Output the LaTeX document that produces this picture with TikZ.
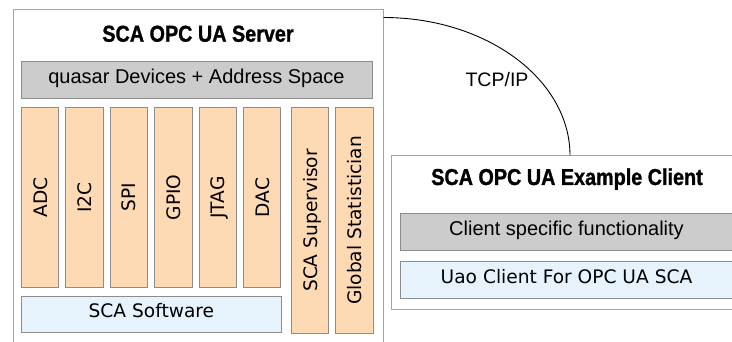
\documentclass[tikz,border=0pt]{standalone}
\usepackage{fontspec}
\setmainfont{Liberation Sans}
\newfontfamily\lucfont{DejaVu Sans}
\newfontfamily\condfont[FakeStretch=0.86,BoldFeatures={FakeBold=1.2}]{Liberation Sans}
\usetikzlibrary{positioning,calc}
\definecolor{framegray}{RGB}{165,165,165}
\definecolor{linegray}{RGB}{140,140,140}
\definecolor{chipfill}{RGB}{253,217,180}
\definecolor{barfill}{RGB}{204,204,204}
\definecolor{swfill}{RGB}{230,242,252}
\newcommand{\uptext}[1]{\rotatebox{90}{\raisebox{0pt}[\height][0pt]{#1}}}
\tikzset{
  frame/.style={rectangle, draw=framegray, fill=white, line width=1pt,
                inner sep=0pt},
  boxtitle/.style={inner sep=0pt, font=\condfont\bfseries\fontsize{23}{26}\selectfont},
  layer/.style={rectangle, draw=linegray, fill=barfill, line width=0.8pt,
                minimum height=37pt, inner sep=0pt, text height=0.72em,
                text depth=0pt, font=\fontsize{20}{24}\selectfont},
  software/.style={layer, fill=swfill, minimum height=36pt,
                   font=\lucfont\fontsize{18.6}{22}\selectfont},
  chip/.style={rectangle, draw=linegray, fill=chipfill, line width=0.8pt,
               minimum width=37.4pt, minimum height=180pt, inner sep=0pt,
               font=\lucfont\fontsize{18.6}{22}\selectfont},
  tallchip/.style={chip, minimum height=226pt},
  link/.style={draw=black, line width=0.9pt},
  lbl/.style={inner sep=0pt, font=\fontsize{19.5}{23}\selectfont}
}
\begin{document}
\begin{tikzpicture}[x=1pt, y=1pt, node distance=6.2pt]
\useasboundingbox (0,0) rectangle (732,342);
\clip (0,0) rectangle (732,342);

% server side
\node[frame, minimum width=370pt, minimum height=352pt] (server) at (198,156) {};
\node[boxtitle, anchor=base] (srvtitle) at (198,300.3) {SCA OPC UA Server};
\node[layer, minimum width=351pt] (addrspace) at (196.5,262.5) {quasar Devices + Address Space};

\node[chip, anchor=north west] (adc) at (21,235) {\uptext{ADC}};
\node[chip, right=of adc] (itwoc) {\uptext{I2C}};
\node[chip, right=of itwoc] (spi) {\uptext{SPI}};
\node[chip, right=of spi] (gpio) {\uptext{GPIO}};
\node[chip, right=of gpio] (jtag) {\uptext{JTAG}};
\node[chip, right=of jtag] (dac) {\uptext{DAC}};
\node[tallchip, anchor=north west] (supervisor) at (291,235) {\uptext{SCA Supervisor}};
\node[tallchip, right=of supervisor] (statistician) {\uptext{Global Statistician}};

\node[software, minimum width=260pt, anchor=north west] (scasw) at (21,46) {SCA Software};

% client side
\node[frame, minimum width=351pt, minimum height=154pt] (client) at (566.5,109) {};
\node[boxtitle, anchor=base] (clititle) at (567,157) {SCA OPC UA Example Client};
\node[layer, minimum width=333pt] (clientfunc) at (566.5,110) {Client specific functionality};
\node[software, minimum width=333pt, minimum height=37pt] (uaoclient) at (566.5,62.5) {Uao Client For OPC UA SCA};

% connection
\draw[link] ([yshift=-8pt]server.north east) .. controls +(103,0) and +(0,76) .. ([xshift=3.5pt]client.north);
\node[lbl] (tcp) at (497,262) {TCP/IP};
\end{tikzpicture}
\end{document}
